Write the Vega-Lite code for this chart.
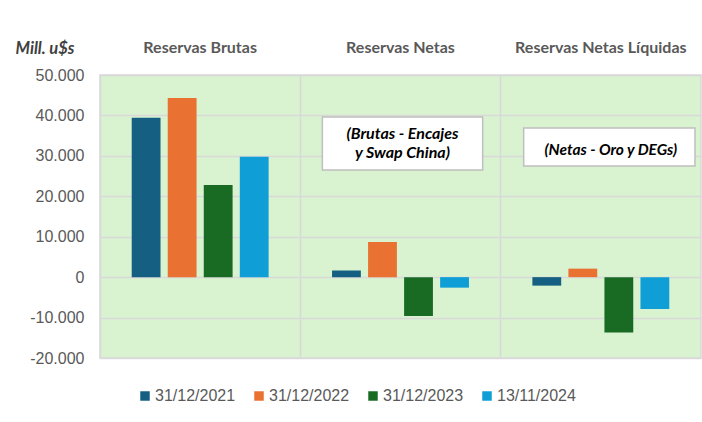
{
  "$schema": "https://vega.github.io/schema/vega-lite/v6.json",
  "width": 601,
  "height": 283,
  "autosize": "none",
  "padding": {"left": 100, "top": 75, "right": 1, "bottom": 64},
  "background": "white",
  "config": {
    "locale": {"number": {"decimal": ",", "thousands": ".", "grouping": [3], "currency": ["$", ""], "minus": "-"}},
    "view": {"fill": "#d9f2d0", "stroke": "#d9d9d9", "strokeWidth": 1.5},
    "font": "Liberation Sans"
  },
  "layer": [
    {
      "data": {"values": [
        {"cat": "Reservas Brutas", "date": "31/12/2021", "value": 39400},
        {"cat": "Reservas Brutas", "date": "31/12/2022", "value": 44300},
        {"cat": "Reservas Brutas", "date": "31/12/2023", "value": 22800},
        {"cat": "Reservas Brutas", "date": "13/11/2024", "value": 29800},
        {"cat": "Reservas Netas", "date": "31/12/2021", "value": 1650},
        {"cat": "Reservas Netas", "date": "31/12/2022", "value": 8700},
        {"cat": "Reservas Netas", "date": "31/12/2023", "value": -9600},
        {"cat": "Reservas Netas", "date": "13/11/2024", "value": -2600},
        {"cat": "Reservas Netas Líquidas", "date": "31/12/2021", "value": -2100},
        {"cat": "Reservas Netas Líquidas", "date": "31/12/2022", "value": 2100},
        {"cat": "Reservas Netas Líquidas", "date": "31/12/2023", "value": -13700},
        {"cat": "Reservas Netas Líquidas", "date": "13/11/2024", "value": -7900}
      ]},
      "mark": {"type": "bar"},
      "encoding": {
        "x": {
          "field": "cat", "type": "nominal",
          "sort": ["Reservas Brutas", "Reservas Netas", "Reservas Netas Líquidas"],
          "scale": {"paddingInner": 0, "paddingOuter": 0},
          "axis": {
            "orient": "top", "title": null, "labelAngle": 0,
            "domain": false, "ticks": false, "tickSize": 0,
            "labelPadding": 20, "labelFont": "Lato", "labelFontWeight": "bold",
            "labelFontSize": 16, "labelColor": "#595959",
            "grid": true, "bandPosition": 0, "gridColor": "#d9d9d9", "gridWidth": 1.5
          }
        },
        "xOffset": {
          "field": "date", "type": "nominal",
          "sort": ["31/12/2021", "31/12/2022", "31/12/2023", "13/11/2024"],
          "scale": {"paddingInner": 0.2, "paddingOuter": 0.88}
        },
        "y": {
          "field": "value", "type": "quantitative",
          "scale": {"domain": [-20000, 50000], "nice": false, "zero": false},
          "axis": {
            "values": [-20000, -10000, 0, 10000, 20000, 30000, 40000, 50000],
            "format": ",.0f",
            "domain": false, "ticks": false, "tickSize": 0, "labelPadding": 16,
            "labelFont": "Liberation Sans", "labelFontSize": 16, "labelColor": "#595959",
            "gridColor": "#d9d9d9", "gridWidth": 1.5,
            "title": "Mill. u$s", "titleAngle": 0, "titleAlign": "left",
            "titleBaseline": "alphabetic", "titleX": -85, "titleY": -22,
            "titleFont": "Lato", "titleFontStyle": "italic", "titleFontWeight": "bold",
            "titleFontSize": 16.5, "titleColor": "#404040"
          }
        },
        "color": {
          "field": "date", "type": "nominal",
          "scale": {
            "domain": ["31/12/2021", "31/12/2022", "31/12/2023", "13/11/2024"],
            "range": ["#156082", "#e97132", "#196b24", "#0f9ed5"]
          },
          "legend": {
            "title": null, "orient": "none", "direction": "horizontal",
            "legendX": 37, "legendY": 313,
            "symbolType": "square", "symbolSize": 90, "symbolStrokeWidth": 0,
            "labelFont": "Liberation Sans", "labelFontSize": 16, "labelColor": "#595959",
            "labelOffset": 2, "columnPadding": 15
          }
        }
      }
    },
    {
      "data": {"values": [{"cat": "Reservas Netas", "top": 39600, "bottom": 26500}]},
      "mark": {"type": "bar", "width": {"band": 0.8}, "xOffset": 2, "fill": "white", "stroke": "#bfbfbf", "strokeWidth": 1.5},
      "encoding": {
        "x": {"field": "cat", "type": "nominal"},
        "y": {"field": "top", "type": "quantitative"},
        "y2": {"field": "bottom"}
      }
    },
    {
      "data": {"values": [{"cat": "Reservas Netas Líquidas", "top": 36900, "bottom": 27500}]},
      "mark": {"type": "bar", "width": {"band": 0.855}, "xOffset": 8.5, "fill": "white", "stroke": "#bfbfbf", "strokeWidth": 1.5},
      "encoding": {
        "x": {"field": "cat", "type": "nominal"},
        "y": {"field": "top", "type": "quantitative"},
        "y2": {"field": "bottom"}
      }
    },
    {
      "data": {"values": [{"cat": "Reservas Netas", "ty": 35300, "label": "(Brutas - Encajes\ny Swap China)"}]},
      "mark": {"type": "text", "xOffset": 2, "lineBreak": "\n", "lineHeight": 19, "font": "Lato", "fontStyle": "italic", "fontWeight": "bold", "fontSize": 16, "color": "#000000", "baseline": "middle"},
      "encoding": {
        "x": {"field": "cat", "type": "nominal"},
        "y": {"field": "ty", "type": "quantitative"},
        "text": {"field": "label"}
      }
    },
    {
      "data": {"values": [{"cat": "Reservas Netas Líquidas", "ty": 31400, "label": "(Netas - Oro y DEGs)"}]},
      "mark": {"type": "text", "xOffset": 10, "font": "Lato", "fontStyle": "italic", "fontWeight": "bold", "fontSize": 15.5, "color": "#000000", "baseline": "middle"},
      "encoding": {
        "x": {"field": "cat", "type": "nominal"},
        "y": {"field": "ty", "type": "quantitative"},
        "text": {"field": "label"}
      }
    }
  ]
}
